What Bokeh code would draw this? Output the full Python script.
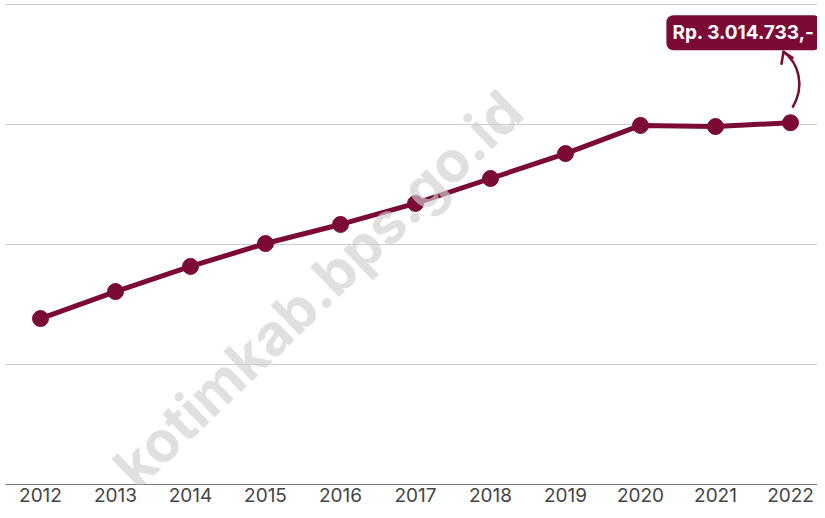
from bokeh.plotting import figure
from bokeh.models import FixedTicker, Label, Range1d
from bokeh.embed import file_html
from bokeh.resources import INLINE
import math

years = [2012, 2013, 2014, 2015, 2016, 2017, 2018, 2019, 2020, 2021, 2022]
wages = [1383000, 1608000, 1817000, 2008000, 2167000, 2342000, 2550000, 2758000, 2992000, 2983000, 3014733]
grid_values = [0, 1000000, 2000000, 3000000, 4000000]
callout_text = "Rp. 3.014.733,-"
watermark_text = "kotimkab.bps.go.id"

MAROON = "#7b0a37"

p = figure(frame_width=812, frame_height=484, output_backend="svg", toolbar_location=None,
           x_range=Range1d(2011.5333, 2022.36), y_range=Range1d(0, 4033333),
           min_border_left=5, min_border_right=0, min_border_top=0, min_border_bottom=26)
p.outline_line_color = None
p.background_fill_color = "white"
p.border_fill_color = "white"

p.yaxis.visible = False
p.xgrid.visible = False
p.ygrid.ticker = FixedTicker(ticks=grid_values)
p.ygrid.grid_line_color = "#cccccc"
p.ygrid.grid_line_width = 1

p.xaxis.ticker = FixedTicker(ticks=years)
p.xaxis.major_tick_line_color = None
p.xaxis.major_tick_out = 0
p.xaxis.major_tick_in = 0
p.xaxis.minor_tick_line_color = None
p.xaxis.axis_line_color = "#777777"
p.xaxis.axis_line_width = 1
p.xaxis.major_label_text_font = "Inter"
p.xaxis.major_label_text_font_size = "19px"
p.xaxis.major_label_text_color = "#444444"
p.xaxis.major_label_standoff = 3

p.line(years, wages, line_color=MAROON, line_width=5, line_join="round", line_cap="round")
p.scatter(years, wages, size=16, fill_color=MAROON, line_color=MAROON)

# callout arrow (offsets relative to last point, in data units)
lx, ly = years[-1], wages[-1]
px = 1 / 75.0
py = 1e6 / 120.0
p.bezier(x0=[lx + 2 * px], y0=[ly + 15 * py],
         x1=[lx - 7 * px], y1=[ly + 71 * py],
         cx0=[lx + 15 * px], cy0=[ly + 37 * py],
         cx1=[lx + 8 * px], cy1=[ly + 60 * py],
         line_color=MAROON, line_width=2.5)
p.segment(x0=[lx - 7 * px, lx - 7 * px], y0=[ly + 71 * py, ly + 71 * py],
          x1=[lx - 9 * px, lx + 2 * px], y1=[ly + 59 * py, ly + 65 * py],
          line_color=MAROON, line_width=2.5, line_cap="round")

callout = Label(x=lx - 0.627, y=ly + 90 * py, text=callout_text,
                text_align="center", text_baseline="middle",
                text_font="Inter", text_font_size="19px", text_font_style="bold",
                text_color="white", background_fill_color=MAROON,
                padding=6, border_radius=7)
p.add_layout(callout)

wm = Label(x=2015.7, y=1630000, text=watermark_text, angle=math.radians(44),
           text_align="center", text_baseline="middle",
           text_font="Inter", text_font_size="57px", text_font_style="bold",
           text_color="#cfcfcf", text_alpha=0.65)
p.add_layout(wm)

open("out.html", "w").write(file_html(p, INLINE))
